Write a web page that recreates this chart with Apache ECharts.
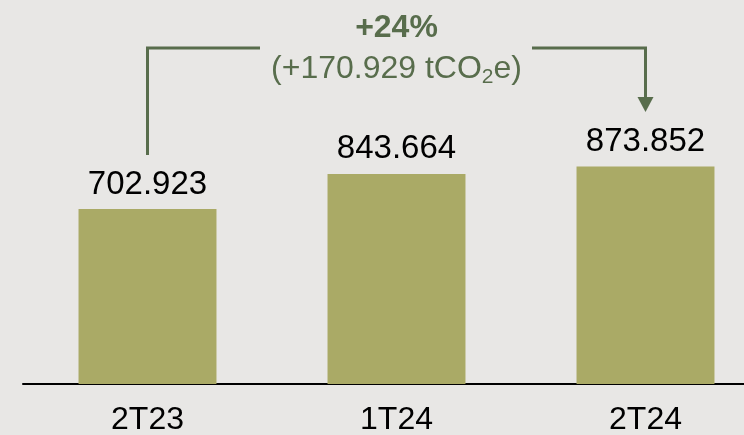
<!DOCTYPE html>
<html>
<head>
<meta charset="utf-8">
<script src="https://cdn.jsdelivr.net/npm/echarts@6/dist/echarts.min.js"></script>
<style>
html,body{margin:0;padding:0;background:#e8e7e5;}
#c{width:744px;height:435px;}
</style>
</head>
<body>
<div id="c"></div>
<script>
// Data
var categories = ['2T23', '1T24', '2T24'];
var emissions = [702923, 843664, 873852];
var changePct = '+24%';
var changeAbs = '+170.929';
// bracket annotation levels (value units)
var bracketTop = 1349000;
var bracketLeftEnd = 920000;
var arrowTip = 1092000;
var pctLabelLevel = 1429000;
var absLabelLevel = 1264000;

var GREEN = '#586d4c';
var FONT = '"Liberation Sans", Arial, sans-serif';

function fmt(v){ return String(v).replace(/\B(?=(\d{3})+(?!\d))/g, '.'); }

var chart = echarts.init(document.getElementById('c'), null, {renderer:'canvas'});
chart.setOption({
  backgroundColor: '#e8e7e5',
  animation: false,
  grid: {left: 23, width: 747, top: 0, bottom: 51, containLabel: false, outerBoundsMode: 'none'},
  xAxis: {
    type: 'category', data: categories,
    axisLine: {lineStyle: {color: '#000', width: 2}},
    axisTick: {show: false},
    axisLabel: {color: '#000', fontSize: 32, fontFamily: FONT, margin: 20}
  },
  yAxis: {type: 'value', min: 0, max: 1542000, show: false, splitLine: {show: false}},
  series: [{
    type: 'bar', data: emissions, barWidth: '55.4%',
    itemStyle: {color: '#aaaa66'},
    label: {show: true, position: 'top', distance: 8, color: '#000', fontSize: 33, fontFamily: FONT,
      formatter: function(p){ return fmt(p.value); }}
  }]
});

function px(ci, v){ return chart.convertToPixel({gridIndex:0}, [categories[ci], v]); }
var pL = px(0, bracketTop), pLb = px(0, bracketLeftEnd);
var pR = px(2, bracketTop), pRt = px(2, arrowTip);
var pT1 = px(1, pctLabelLevel), pT2 = px(1, absLabelLevel);
var gapL = 260, gapR = 532;
var lw = 3;
chart.setOption({
  graphic: [
    {type:'polyline', shape:{points:[[pLb[0], pLb[1]],[pL[0], pL[1]],[gapL, pL[1]]]}, style:{stroke:GREEN, lineWidth:lw, fill:null}},
    {type:'polyline', shape:{points:[[gapR, pR[1]],[pR[0], pR[1]],[pR[0], pRt[1]-14]]}, style:{stroke:GREEN, lineWidth:lw, fill:null}},
    {type:'polygon', shape:{points:[[pR[0]-8, pRt[1]-15],[pR[0]+8, pRt[1]-15],[pR[0], pRt[1]]]}, style:{fill:GREEN}},
    {type:'text', x:pT1[0], y:pT1[1], style:{text:changePct, fill:GREEN, font:'bold 32px '+FONT, textAlign:'center', textVerticalAlign:'middle'}},
    {type:'text', x:pT2[0], y:pT2[1], style:{
      text:'{n|(' + changeAbs + ' tCO}{s|2}{n|e)}', textAlign:'center', textVerticalAlign:'middle',
      rich:{ n:{fontSize:32, fontFamily:FONT, fill:GREEN, color:GREEN},
             s:{fontSize:21, fontFamily:FONT, fill:GREEN, color:GREEN, padding:[16,0,0,0]} }
    }}
  ]
});
</script>
</body>
</html>
